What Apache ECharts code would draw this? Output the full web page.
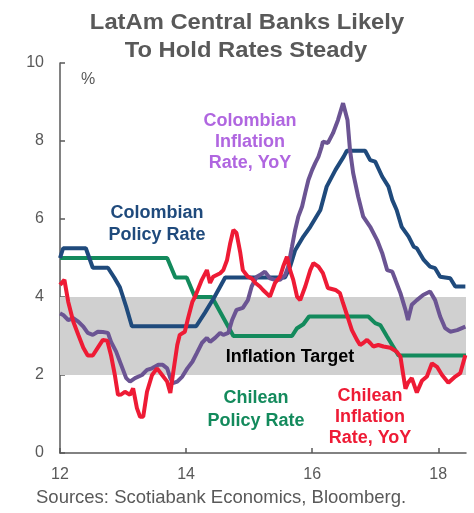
<!DOCTYPE html>
<html>
<head>
<meta charset="utf-8">
<script src="https://cdn.jsdelivr.net/npm/echarts@6/dist/echarts.min.js"></script>
<style>
html,body{margin:0;padding:0;background:#fff;}
#c{width:474px;height:513px;}
</style>
</head>
<body>
<div id="c"></div>
<script>
// Colombian policy rate [year, %]
const colPolicyYears = [12.00,12.05,12.41,12.52,12.76,12.86,12.95,13.05,13.14,14.16,14.30,14.45,14.62,15.57,15.65,15.73,15.86,15.97,16.13,16.23,16.37,16.50,16.55,16.84,16.92,17.00,17.11,17.21,17.27,17.34,17.42,17.53,17.61,17.66,17.77,17.87,17.95,18.03,18.19,18.27,18.43];
const colPolicyVals  = [5.00,5.25,5.25,4.75,4.75,4.50,4.25,3.75,3.25,3.25,3.60,4.00,4.50,4.50,4.78,5.20,5.55,5.80,6.23,6.83,7.26,7.60,7.75,7.75,7.51,7.47,7.09,6.83,6.49,6.23,5.80,5.55,5.29,5.25,4.95,4.78,4.74,4.52,4.48,4.27,4.27];

// Chilean policy rate
const chlPolicyYears = [12.00,13.70,13.83,14.01,14.14,14.41,14.75,15.68,15.76,15.86,15.95,16.89,17.00,17.08,17.19,17.37,18.44];
const chlPolicyVals  = [5.00,5.00,4.50,4.50,4.00,4.00,3.00,3.00,3.20,3.30,3.50,3.50,3.33,3.28,2.98,2.50,2.50];

// Colombian inflation, YoY
const colInflYears = [12.00,12.05,12.13,12.21,12.29,12.37,12.44,12.52,12.60,12.68,12.76,12.81,12.89,12.97,13.05,13.11,13.19,13.30,13.38,13.46,13.56,13.63,13.70,13.75,13.79,13.86,13.94,14.02,14.10,14.17,14.25,14.33,14.38,14.46,14.54,14.59,14.67,14.73,14.80,14.90,14.98,15.04,15.12,15.17,15.25,15.33,15.41,15.49,15.57,15.62,15.68,15.73,15.78,15.84,15.89,15.94,16.00,16.05,16.10,16.15,16.17,16.25,16.33,16.41,16.49,16.56,16.60,16.65,16.73,16.81,16.92,17.03,17.11,17.19,17.27,17.32,17.40,17.48,17.52,17.58,17.66,17.76,17.87,17.95,18.03,18.11,18.19,18.30,18.43];
const colInflVals  = [3.58,3.54,3.41,3.46,3.37,3.24,3.08,3.03,3.11,3.10,3.08,2.85,2.60,2.26,1.92,1.83,1.92,2.00,2.13,2.17,2.26,2.26,2.17,1.92,1.79,1.83,1.96,2.17,2.34,2.56,2.82,2.95,2.85,2.95,3.08,3.03,3.08,3.41,3.67,3.72,3.92,4.27,4.52,4.56,4.65,4.48,4.44,4.44,4.56,4.78,5.29,5.72,6.06,6.32,6.67,7.00,7.26,7.44,7.60,7.85,7.98,7.95,8.20,8.54,8.97,8.54,7.77,7.18,6.57,6.06,5.80,5.46,5.13,4.69,4.65,4.44,4.10,3.67,3.41,3.80,3.92,4.05,4.14,3.92,3.50,3.20,3.11,3.15,3.24];

// Chilean inflation, YoY
const chlInflYears = [12.00,12.07,12.13,12.21,12.29,12.37,12.44,12.52,12.60,12.68,12.75,12.81,12.87,12.92,12.97,13.03,13.11,13.16,13.22,13.27,13.32,13.38,13.46,13.54,13.62,13.70,13.75,13.79,13.86,13.90,13.98,14.03,14.10,14.14,14.25,14.33,14.38,14.43,14.54,14.59,14.65,14.70,14.75,14.80,14.86,14.90,14.98,15.04,15.10,15.17,15.22,15.33,15.41,15.49,15.54,15.60,15.65,15.70,15.76,15.81,15.89,15.97,16.02,16.10,16.17,16.25,16.37,16.44,16.49,16.56,16.63,16.71,16.76,16.81,16.87,16.92,16.97,17.05,17.13,17.24,17.34,17.40,17.44,17.48,17.52,17.58,17.66,17.74,17.82,17.90,17.98,18.06,18.16,18.27,18.35,18.43];
const chlInflVals  = [4.31,4.44,3.88,3.37,3.03,2.70,2.50,2.50,2.70,2.90,2.88,2.50,2.00,1.49,1.50,1.57,1.49,1.66,1.15,0.93,0.93,1.57,2.00,2.17,2.00,1.83,1.54,2.00,2.77,3.03,3.11,3.45,3.88,4.00,4.44,4.69,4.36,4.52,4.61,4.69,4.95,5.38,5.72,5.64,5.13,4.69,4.52,4.48,4.36,4.27,4.18,4.01,4.36,4.52,4.78,5.03,4.69,4.44,4.01,3.92,4.27,4.69,4.87,4.78,4.61,4.23,4.18,4.10,3.84,3.50,3.15,2.90,2.77,2.82,2.90,2.82,2.73,2.77,2.73,2.70,2.60,2.47,2.05,1.65,1.80,1.92,1.55,1.85,1.96,2.30,2.21,2.00,1.80,1.96,2.05,2.51];

// Inflation target band
const targetLow = 2, targetHigh = 4;
const xTicks = [12, 14, 16, 18];

const zip = (xs, ys) => xs.map((x, i) => [x, ys[i]]);

const chart = echarts.init(document.getElementById('c'), null, {renderer: 'canvas'});
const axisGray = '#595959';
const FONT = '"Liberation Sans", Arial, sans-serif';

const option = {
  animation: false,
  backgroundColor: '#ffffff',
  grid: {left: 60, right: 8, top: 63, bottom: 60, containLabel: false},
  xAxis: {
    type: 'value', min: 12, max: 18.44, interval: 2,
    axisLine: {show: true, lineStyle: {color: axisGray, width: 1.5}},
    axisTick: {show: true, inside: true, length: 5, lineStyle: {color: axisGray, width: 1.5}},
    axisLabel: {color: axisGray, fontSize: 16, fontFamily: FONT, margin: 14, showMaxLabel: false,
      formatter: v => xTicks.includes(v) ? String(v) : ''},
    splitLine: {show: false}
  },
  yAxis: {
    type: 'value', min: 0, max: 10, interval: 2,
    axisLine: {show: true, lineStyle: {color: axisGray, width: 1.5}},
    axisTick: {show: true, inside: true, length: 5, lineStyle: {color: axisGray, width: 1.5}},
    axisLabel: {color: axisGray, fontSize: 16, fontFamily: FONT, margin: 16},
    splitLine: {show: false}
  },
  series: [
    {
      type: 'line', data: [], silent: true,
      markArea: {silent: true, itemStyle: {color: '#d0d0d0'},
        data: [[{xAxis: 12, yAxis: targetLow}, {xAxis: 18.44, yAxis: targetHigh}]]}
    },
    {name: 'Chilean Policy Rate', type: 'line', data: zip(chlPolicyYears, chlPolicyVals), showSymbol: false,
      lineStyle: {color: '#138a5c', width: 4}, z: 3},
    {name: 'Colombian Policy Rate', type: 'line', data: zip(colPolicyYears, colPolicyVals), showSymbol: false,
      lineStyle: {color: '#1f4a7c', width: 4}, z: 4},
    {name: 'Colombian Inflation', type: 'line', data: zip(colInflYears, colInflVals), showSymbol: false,
      lineStyle: {color: '#6b5493', width: 4}, z: 5},
    {name: 'Chilean Inflation', type: 'line', data: zip(chlInflYears, chlInflVals), showSymbol: false,
      lineStyle: {color: '#ee1b35', width: 4}, z: 6}
  ],
  graphic: [
    {type: 'text', z: 100, x: 247, y: 23, scaleX: 1.08, style: {text: 'LatAm Central Banks Likely', x: 0, y: 0, align: 'center', verticalAlign: 'middle',
      font: 'bold 22px ' + FONT, fill: '#595959'}},
    {type: 'text', z: 100, x: 246, y: 51, scaleX: 1.08, style: {text: 'To Hold Rates Steady', x: 0, y: 0, align: 'center', verticalAlign: 'middle',
      font: 'bold 22px ' + FONT, fill: '#595959'}},
    {type: 'text', z: 100, style: {text: '%', x: 88, y: 80, align: 'center', verticalAlign: 'middle',
      font: '16px ' + FONT, fill: '#595959'}},
    {type: 'text', z: 100, style: {text: 'Colombian\nPolicy Rate', x: 157, y: 224, align: 'center', verticalAlign: 'middle',
      font: 'bold 18px ' + FONT, lineHeight: 22, fill: '#1f4a7c'}},
    {type: 'text', z: 100, style: {text: 'Colombian\nInflation\nRate, YoY', x: 250, y: 142, align: 'center', verticalAlign: 'middle',
      font: 'bold 18px ' + FONT, lineHeight: 21, fill: '#b066e0'}},
    {type: 'text', z: 100, style: {text: 'Inflation Target', x: 290, y: 357, align: 'center', verticalAlign: 'middle',
      font: 'bold 18px ' + FONT, fill: '#000000'}},
    {type: 'text', z: 100, style: {text: 'Chilean\nPolicy Rate', x: 256, y: 410, align: 'center', verticalAlign: 'middle',
      font: 'bold 18px ' + FONT, lineHeight: 23, fill: '#138a5c'}},
    {type: 'text', z: 100, style: {text: 'Chilean\nInflation\nRate, YoY', x: 370, y: 417, align: 'center', verticalAlign: 'middle',
      font: 'bold 18px ' + FONT, lineHeight: 21, fill: '#ee1b35'}},
    {type: 'text', z: 100, style: {text: 'Sources: Scotiabank Economics, Bloomberg.', x: 36, y: 498, align: 'left', verticalAlign: 'middle',
      font: '18.5px ' + FONT, fill: '#595959'}}
  ]
};
chart.setOption(option);
</script>
</body>
</html>
